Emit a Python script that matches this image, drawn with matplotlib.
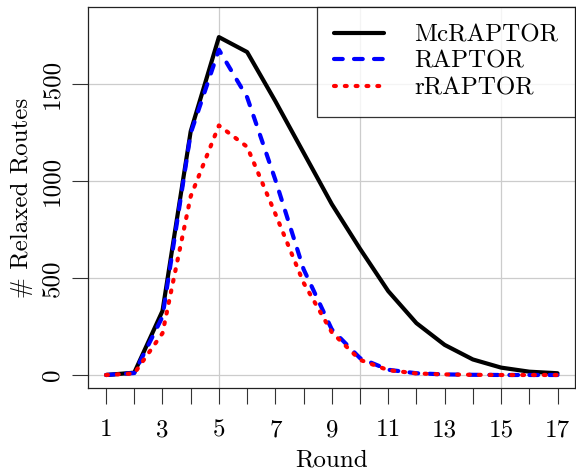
import matplotlib
matplotlib.use("Agg")
import matplotlib.pyplot as plt

rounds = list(range(1, 18))
mcraptor = [0, 12, 330, 1255, 1740, 1663, 1410, 1145, 880, 650, 432, 267, 155, 80, 38, 17, 9]
raptor = [0, 10, 300, 1245, 1675, 1430, 1005, 545, 235, 87, 27, 9, 3, 1, 0, 0, 0]
rraptor = [0, 8, 215, 920, 1285, 1175, 830, 475, 220, 78, 25, 8, 3, 1, 0, 0, 0]
series_names = ["McRAPTOR", "RAPTOR", "rRAPTOR"]
xticks = rounds
xticklabels = [str(r) if r % 2 == 1 else "" for r in rounds]
yticks = [0, 500, 1000, 1500]
grid_x = [5, 10, 15]

plt.rcParams["font.family"] = ["cmr10", "DejaVu Serif"]
plt.rcParams["mathtext.fontset"] = "cm"
plt.rcParams["axes.formatter.use_mathtext"] = True
FS = 18

fig = plt.figure(figsize=(5.76, 4.71), dpi=100)
ax = fig.add_axes([88/576, 1-388/471, (575-88)/576, (388-7)/471])

for gx in grid_x:
    ax.axvline(gx, color="#cccccc", lw=0.9, zorder=0)
for gy in yticks:
    ax.axhline(gy, color="#cccccc", lw=0.9, zorder=0)

ax.plot(rounds, mcraptor, color="black", lw=3, solid_capstyle="round", solid_joinstyle="round",
        label=series_names[0], zorder=3)
ax.plot(rounds, raptor, color="blue", lw=3, linestyle=(0, (2.1, 2.7)), dash_capstyle="round",
        label=series_names[1], zorder=4)
ax.plot(rounds, rraptor, color="red", lw=3, linestyle=(0, (0.45, 2.15)), dash_capstyle="round",
        label=series_names[2], zorder=5)

ax.set_xlim(0.36, 17.62)
ax.set_ylim(-67, 1895)
ax.set_xticks(xticks)
ax.set_xticklabels(xticklabels, fontsize=FS)
ax.set_yticks(yticks)
ax.set_yticklabels([str(v) for v in yticks], fontsize=FS, rotation=90, va="center")
ax.tick_params(axis="both", direction="out", length=11.5, width=0.8, color="#333333")
ax.tick_params(axis="x", pad=11)
ax.tick_params(axis="y", pad=6)
for s in ax.spines.values():
    s.set_linewidth(0.9)
    s.set_color("#222222")

ax.set_xlabel("Round", fontsize=FS, labelpad=6)
ax.set_ylabel("# Relaxed Routes", fontsize=FS, labelpad=6)

leg = ax.legend(loc="upper right", bbox_to_anchor=(1.0, 1.0), borderaxespad=0,
                fontsize=FS, frameon=True, fancybox=False, edgecolor="black",
                handlelength=2.0, handletextpad=1.2, borderpad=0.68, labelspacing=0.16)
leg.get_frame().set_linewidth(0.9)

fig.savefig("out.png", dpi=100)
